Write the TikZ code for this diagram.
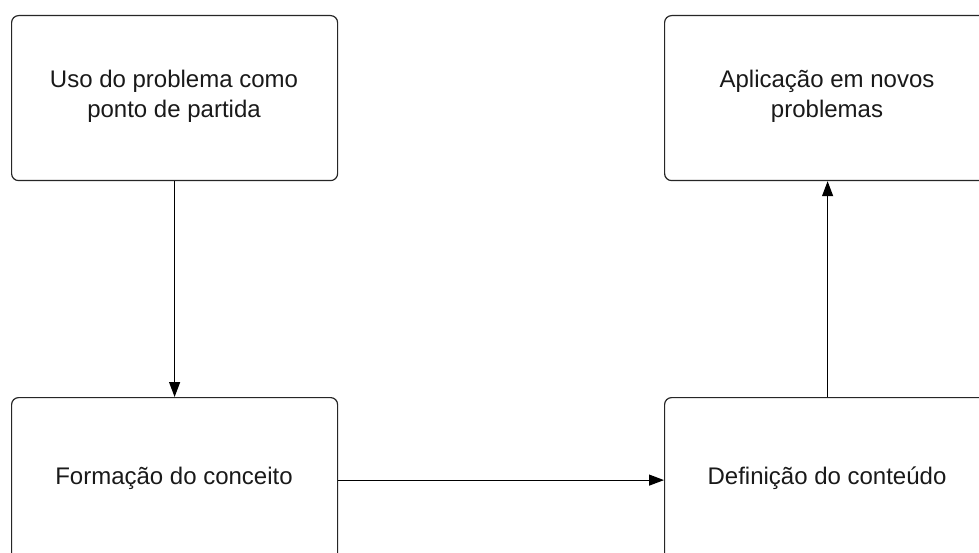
\documentclass[tikz,border=0pt]{standalone}
\usepackage{fontspec}
\setmainfont{Liberation Sans}
\usetikzlibrary{arrows.meta}
\begin{document}
\begin{tikzpicture}[x=1pt,y=-1pt,
  box/.style={draw=black!85, line width=1.2pt, rounded corners=7pt, fill=white,
    minimum width=326pt, minimum height=165pt, anchor=north west, inner sep=0pt},
  lbl/.style={align=center, font=\fontsize{24}{30}\selectfont, text=black!90},
  conn/.style={draw=black, line width=1.2pt, -{Triangle[length=15pt,width=11pt]}}]
\useasboundingbox (0,0) rectangle (979,553);
\clip (0,0) rectangle (979,553);
\fill[white] (0,0) rectangle (979,553);
\node[box] (b1) at (11,15) {};
\node[box] (b2) at (664,15) {};
\node[box] (b3) at (11,397) {};
\node[box] (b4) at (664,397) {};
\node[lbl] (t1) at (174,96) {Uso do problema como\\ponto de partida};
\node[lbl] (t2) at (827,96) {Aplicação em novos\\problemas};
\node[lbl] (t3) at (174,478) {Formação do conceito};
\node[lbl] (t4) at (827,478) {Definição do conteúdo};
\draw[conn] (b1.south) -- (b3.north);
\draw[conn] (b3.east) -- (b4.west);
\draw[conn] (b4.north) -- (b2.south);
\end{tikzpicture}
\end{document}
